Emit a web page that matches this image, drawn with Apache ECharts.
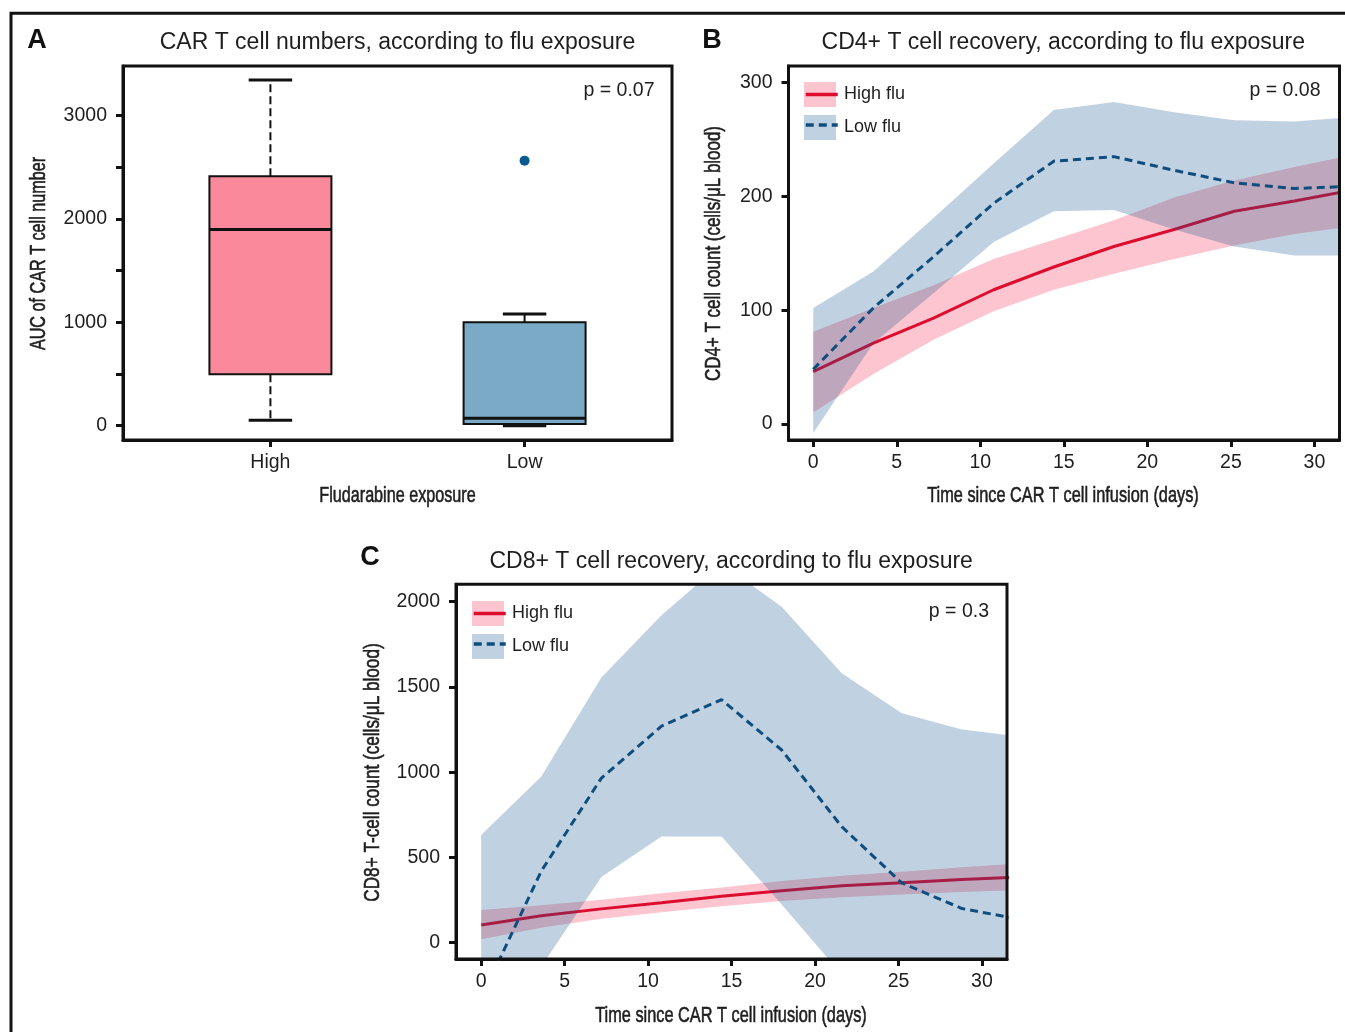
<!DOCTYPE html>
<html>
<head>
<meta charset="utf-8">
<script src="https://cdn.jsdelivr.net/npm/echarts@6/dist/echarts.min.js"></script>
<style>
html,body{margin:0;padding:0;background:#fff;}
#chart{width:1345px;height:1032px;}
</style>
</head>
<body>
<div id="chart"></div>
<script>
// ---------- Panel A: box plot data ----------
const boxGroups = ['High', 'Low'];
const boxWhiskerLow = [52, 0];
const boxQ1 = [498, 16];
const boxMedian = [1899, 71];
const boxQ3 = [2413, 1000];
const boxWhiskerHigh = [3345, 1081];
const boxOutliers = [[2, 2565]];
const aTickValues = [0, 500, 1000, 1500, 2000, 2500, 3000];
const aLabelValues = [0, 1000, 2000, 3000];

// ---------- Panels B & C: time nodes ----------
const days = [0, 3.6, 7.2, 10.8, 14.4, 18, 21.6, 25.2, 28.8, 32.4];
const dayTicks = [0, 5, 10, 15, 20, 25, 30];

// Panel B: CD4+
const cd4HighMean  = [46, 71, 93, 118, 138, 156, 171, 187, 196, 206];
const cd4HighUpper = [81, 102, 122, 145, 162, 179, 199, 214, 226, 237];
const cd4HighLower = [10, 44, 74, 99, 118, 132, 145, 157, 167, 174];
const cd4LowMean   = [48, 102, 147, 194, 231, 235, 223, 212, 207, 209];
const cd4LowUpper  = [102, 134, 181, 229, 276, 283, 274, 267, 266, 270];
const cd4LowLower  = [-8, 71, 115, 160, 187, 188, 171, 156, 148, 148];
const bTicks = [0, 100, 200, 300];

// Panel C: CD8+
const cd8HighMean  = [104, 158, 198, 234, 272, 305, 333, 352, 370, 386];
const cd8HighUpper = [192, 220, 252, 290, 324, 362, 393, 416, 442, 466];
const cd8HighLower = [20, 88, 140, 178, 214, 244, 266, 282, 297, 308];
const cd8LowMean   = [-325, 420, 965, 1270, 1425, 1130, 680, 350, 200, 135];
const cd8LowUpper  = [631, 975, 1555, 1920, 2225, 1970, 1580, 1345, 1250, 1208];
const cd8LowLower  = [-700, -140, 385, 622, 622, 223, -187, -450, -550, -600];
const cTicks = [0, 500, 1000, 1500, 2000];

// ---------- styles ----------
const SANS = "'Liberation Sans', Arial, Helvetica, sans-serif";
const TXT = '#1e1e1e';
const AX = '#111111';
const RED = '#DC0D2E';
const PINK_BAND = '#FDC5CF';
const BLUE_LINE = '#0E4D7E';
const BLUE_BAND = 'rgba(10,80,140,0.26)';
const BOX_COLORS = ['#FA8A9B', '#7AAAC5'];
const OUTLIER = '#0B5A8F';

const chart = echarts.init(document.getElementById('chart'), null, {renderer: 'canvas'});

function numAxis(gridIndex, min, max, ticks, labels, margin, formatter) {
  return {
    type: 'value', gridIndex, min, max,
    axisLine: {show: true, onZero: false, lineStyle: {color: AX, width: 3}},
    axisTick: {show: true, inside: false, length: 7, lineStyle: {color: AX, width: 3}, customValues: ticks},
    axisLabel: {show: true, margin, fontFamily: SANS, fontSize: 19.5, color: TXT,
                customValues: labels, formatter: formatter || (v => String(v))},
    splitLine: {show: false}
  };
}

function pts(xs, ys) { return xs.map((x, i) => [x, ys[i]]); }

// confidence band drawn as one polygon through the axes' scales
function band(lower, upper, color, axisIdx, z) {
  return {
    type: 'custom', xAxisIndex: axisIdx, yAxisIndex: axisIdx, z, silent: true, clip: true,
    data: days.map((d, i) => [d, lower[i], upper[i]]),
    encode: {x: 0, y: [1, 2]},
    renderItem: function (params, api) {
      if (params.dataIndex !== 0) return null;
      const top = days.map((d, i) => api.coord([d, upper[i]]));
      const bottom = days.map((d, i) => api.coord([d, lower[i]])).reverse();
      return {type: 'polygon', shape: {points: top.concat(bottom)}, style: {fill: color}};
    }
  };
}

function meanLine(name, values, color, dashed, axisIdx, z) {
  return {
    name, type: 'line', xAxisIndex: axisIdx, yAxisIndex: axisIdx, data: pts(days, values),
    symbol: 'none', z, clip: true, silent: true,
    itemStyle: {color},
    lineStyle: {color, width: 3, type: dashed ? [8, 5] : 'solid'}
  };
}

function legendPair(left, top) {
  const base = {left, top, orient: 'vertical', padding: 0, itemWidth: 32, itemHeight: 25, itemGap: 8,
                selectedMode: false};
  return [
    Object.assign({}, base, {
      z: 11,
      textStyle: {fontFamily: SANS, fontSize: 18, color: TXT, padding: [0, 0, 0, 3]},
      data: [
        {name: 'High flu', icon: 'rect', itemStyle: {color: PINK_BAND, borderWidth: 0}},
        {name: 'Low flu', icon: 'rect', itemStyle: {color: BLUE_BAND, borderWidth: 0}}
      ]
    }),
    Object.assign({}, base, {
      z: 12,
      formatter: () => '',
      textStyle: {fontFamily: SANS, fontSize: 18, color: 'rgba(0,0,0,0)'},
      itemStyle: {opacity: 0},
      lineStyle: {width: 3.5},
      data: [
        {name: 'High flu', lineStyle: {width: 3.5, color: RED, type: 'solid'}},
        {name: 'Low flu', lineStyle: {width: 3.5, color: BLUE_LINE, type: [8, 5]}}
      ]
    })
  ];
}

function txt(text, x, y, size, align, opts) {
  return {type: 'text', x, y, z: 20, silent: true,
    style: Object.assign({text, fontFamily: SANS, fontSize: size, fill: TXT, align, verticalAlign: 'middle'}, opts || {})};
}
// condensed axis title (Helvetica Condensed look)
function axisTitle(text, x, y, sx, vertical) {
  return {type: 'text', x, y, z: 20, silent: true, scaleX: sx, rotation: vertical ? Math.PI / 2 : 0,
    style: {text, fontFamily: SANS, fontSize: 22, fill: TXT, stroke: TXT, lineWidth: 0.6,
            align: 'center', verticalAlign: 'middle'}};
}

const gridCommon = {show: true, borderColor: AX, borderWidth: 3, backgroundColor: 'transparent', z: 10,
                    containLabel: false, outerBoundsMode: 'none'};

const option = {
  animation: false,
  backgroundColor: '#ffffff',
  grid: [
    Object.assign({left: 123, top: 66, width: 549, height: 374}, gridCommon),
    Object.assign({left: 788.5, top: 66, width: 551, height: 374}, gridCommon),
    Object.assign({left: 456, top: 584.3, width: 551, height: 374.7}, gridCommon)
  ],
  xAxis: [
    numAxis(0, 0.42, 2.58, [1, 2], [1, 2], 13, v => boxGroups[Math.round(v) - 1]),
    numAxis(1, -1.48, 31.5, dayTicks, dayTicks, 13),
    numAxis(2, -1.51, 31.5, dayTicks, dayTicks, 13)
  ],
  yAxis: [
    numAxis(0, -139, 3481, aTickValues, aLabelValues, 16),
    numAxis(1, -14.1, 314.7, bTicks, bTicks, 16),
    numAxis(2, -96, 2102, cTicks, cTicks, 16)
  ],
  legend: legendPair(804, 82).concat(legendPair(472, 601)),
  series: [
    // Panel A
    {
      type: 'custom', xAxisIndex: 0, yAxisIndex: 0, silent: true, z: 3,
      data: boxGroups.map((g, i) => [i + 1, boxWhiskerLow[i], boxQ1[i], boxMedian[i], boxQ3[i], boxWhiskerHigh[i]]),
      encode: {x: 0, y: [1, 2, 3, 4, 5]},
      renderItem: function (params, api) {
        const x = api.value(0);
        const idx = params.dataIndex;
        const boxW = api.size([0.48, 0])[0];
        const capW = api.size([0.171, 0])[0];
        const pWL = api.coord([x, api.value(1)]);
        const pQ1 = api.coord([x, api.value(2)]);
        const pMed = api.coord([x, api.value(3)]);
        const pQ3 = api.coord([x, api.value(4)]);
        const pWH = api.coord([x, api.value(5)]);
        const cx = pQ1[0];
        const dashStyle = {stroke: AX, lineWidth: 2, lineDash: [8, 4]};
        const capStyle = {stroke: AX, lineWidth: 3};
        return {
          type: 'group',
          children: [
            {type: 'line', shape: {x1: cx, y1: pQ3[1], x2: cx, y2: pWH[1]}, style: dashStyle},
            {type: 'line', shape: {x1: cx, y1: pQ1[1], x2: cx, y2: pWL[1]}, style: dashStyle},
            {type: 'line', shape: {x1: cx - capW / 2, y1: pWH[1], x2: cx + capW / 2, y2: pWH[1]}, style: capStyle},
            {type: 'line', shape: {x1: cx - capW / 2, y1: pWL[1], x2: cx + capW / 2, y2: pWL[1]}, style: capStyle},
            {type: 'rect', shape: {x: cx - boxW / 2, y: pQ3[1], width: boxW, height: pQ1[1] - pQ3[1]},
             style: {fill: BOX_COLORS[idx], stroke: AX, lineWidth: 2}},
            {type: 'line', shape: {x1: cx - boxW / 2, y1: pMed[1], x2: cx + boxW / 2, y2: pMed[1]},
             style: {stroke: AX, lineWidth: 3}}
          ]
        };
      }
    },
    {type: 'scatter', xAxisIndex: 0, yAxisIndex: 0, data: boxOutliers, symbol: 'circle', symbolSize: 10,
     itemStyle: {color: OUTLIER, opacity: 1}, silent: true, z: 4},

    // Panel B
    meanLine('High flu', cd4HighMean, RED, false, 1, 3),
    meanLine('Low flu', cd4LowMean, BLUE_LINE, true, 1, 5),
    band(cd4HighLower, cd4HighUpper, PINK_BAND, 1, 2),
    band(cd4LowLower, cd4LowUpper, BLUE_BAND, 1, 4),

    // Panel C
    meanLine('High flu', cd8HighMean, RED, false, 2, 3),
    meanLine('Low flu', cd8LowMean, BLUE_LINE, true, 2, 5),
    band(cd8HighLower, cd8HighUpper, PINK_BAND, 2, 2),
    band(cd8LowLower, cd8LowUpper, BLUE_BAND, 2, 4)
  ],
  graphic: [
    {type: 'polyline', z: 0, silent: true,
     shape: {points: [[11, 1032], [11, 13.3], [1345, 13.3]]},
     style: {stroke: AX, lineWidth: 3, fill: null}},
    txt('A', 37, 41, 27, 'center', {fontWeight: 'bold', fill: '#111'}),
    txt('B', 712, 41, 27, 'center', {fontWeight: 'bold', fill: '#111'}),
    txt('C', 370, 558, 27, 'center', {fontWeight: 'bold', fill: '#111'}),
    txt('CAR T cell numbers, according to flu exposure', 397.5, 42.5, 23, 'center'),
    txt('CD4+ T cell recovery, according to flu exposure', 1063.3, 42.5, 23, 'center'),
    txt('CD8+ T cell recovery, according to flu exposure', 731.2, 561.5, 23, 'center'),
    txt('p = 0.07', 654.5, 91, 19.5, 'right'),
    txt('p = 0.08', 1320.5, 91, 19.5, 'right'),
    txt('p = 0.3', 989, 611.5, 19.5, 'right'),
    axisTitle('Fludarabine exposure', 397.5, 495.5, 0.735, false),
    axisTitle('AUC of CAR T cell number', 39, 253.5, 0.735, true),
    axisTitle('Time since CAR T cell infusion (days)', 1063, 495.5, 0.742, false),
    axisTitle('CD4+ T cell count (cells/\u03bcL blood)', 714, 253.5, 0.77, true),
    axisTitle('Time since CAR T cell infusion (days)', 731, 1015.5, 0.742, false),
    axisTitle('CD8+ T-cell count (cells/\u03bcL blood)', 373, 772.5, 0.78, true)
  ]
};

chart.setOption(option);
</script>
</body>
</html>
